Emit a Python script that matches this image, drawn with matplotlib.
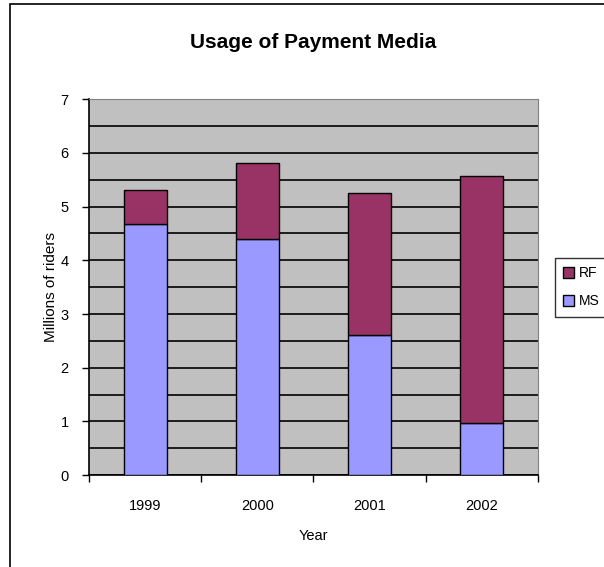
import numpy as np
import matplotlib.pyplot as plt
from matplotlib.patches import Rectangle

plt.rcParams['font.family'] = ['Liberation Sans', 'DejaVu Sans']

years = ["1999", "2000", "2001", "2002"]
ms = [4.67, 4.39, 2.61, 0.97]
total = [5.31, 5.82, 5.25, 5.57]
rf = [t - m for t, m in zip(total, ms)]

fig = plt.figure(figsize=(6.04, 5.67), dpi=100)
ax = fig.add_axes([0.148, 0.162, 0.742, 0.663])

# chart area border (cropped at right and bottom like the source)
fig.patches.append(Rectangle((10 / 604, -0.1), 1.2, 1.1 - 4 / 567, transform=fig.transFigure,
                             fill=False, edgecolor="black", linewidth=1.2))

x = np.arange(len(years))
ax.set_facecolor("#C0C0C0")
ax.bar(x, ms, width=0.39, color="#9999FF", edgecolor="black", linewidth=1, label="MS", zorder=3)
ax.bar(x, rf, bottom=ms, width=0.39, color="#993366", edgecolor="black", linewidth=1, label="RF", zorder=3)

ax.set_xlim(-0.5, 3.5)
ax.set_ylim(0, 7)
ax.set_yticks(range(8))
ax.set_yticks(np.arange(0.5, 7, 1), minor=True)
ax.yaxis.grid(True, which="both", color="black", linewidth=1.2, zorder=1)
ax.set_axisbelow(True)

ax.set_xticks(np.arange(-0.5, 4, 1))
ax.set_xticklabels([])
ax.set_xticks(x, minor=True)
ax.set_xticklabels(years, minor=True, fontsize=10.5)
ax.tick_params(axis="x", which="major", direction="out", length=5, width=1)
ax.tick_params(axis="x", which="minor", length=0, pad=17)
ax.tick_params(axis="y", which="major", direction="out", length=5, width=1, labelsize=10.5, pad=10)
ax.tick_params(axis="y", which="minor", length=0)

for side in ["top", "right"]:
    ax.spines[side].set_color("#808080")
for side in ["left", "bottom"]:
    ax.spines[side].set_linewidth(1.2)

ax.set_xlabel("Year", fontsize=10.5, labelpad=12)
ax.set_ylabel("Millions of riders", fontsize=11, labelpad=2)
fig.text(0.519, 1 - 42 / 567, "Usage of Payment Media", ha="center", va="center",
         fontsize=15, fontweight="bold")

handles, labels = ax.get_legend_handles_labels()
leg = fig.legend(handles[::-1], labels[::-1], loc="upper left",
                 bbox_to_anchor=(555 / 604, 1 - 258 / 567), fontsize=10,
                 frameon=True, fancybox=False, edgecolor="black", borderaxespad=0,
                 handlelength=0.8, handleheight=0.8, handletextpad=0.3,
                 labelspacing=1.0, borderpad=0.6)
leg.get_frame().set_linewidth(1)

fig.savefig("out.png", dpi=100)
